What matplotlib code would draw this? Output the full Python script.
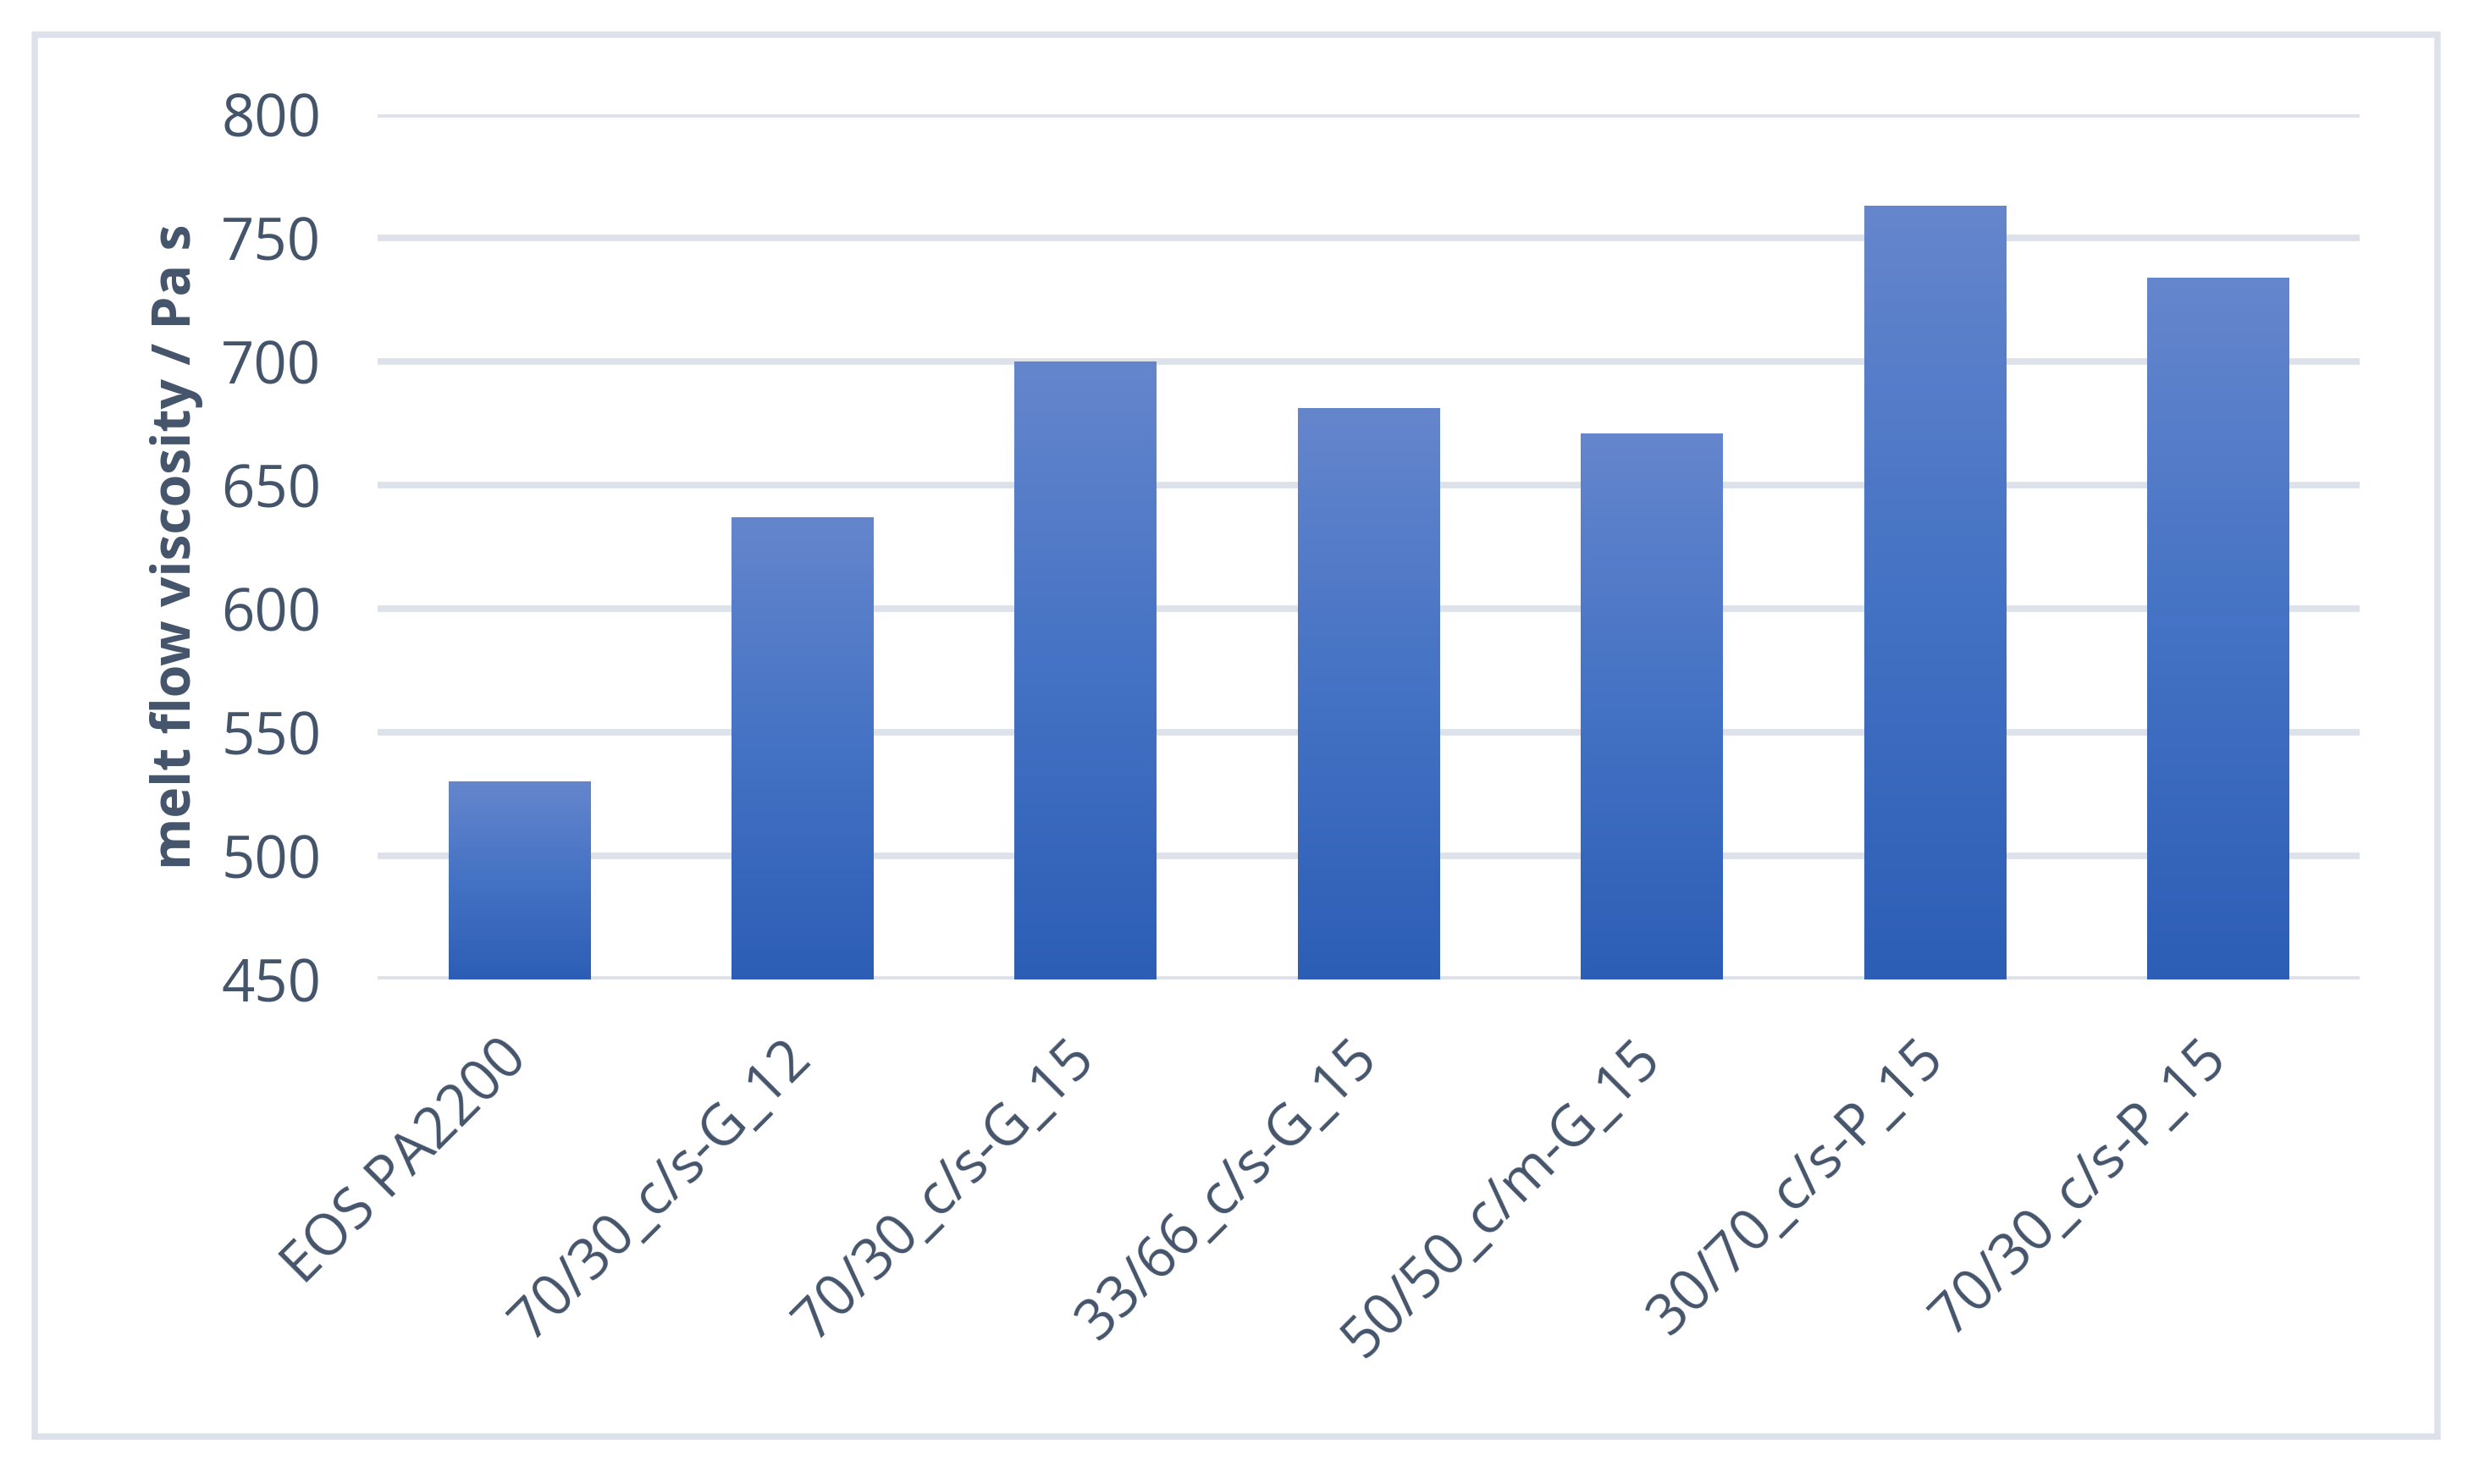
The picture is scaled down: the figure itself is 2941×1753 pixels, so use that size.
import numpy as np
import matplotlib
matplotlib.use("Agg")
import matplotlib.pyplot as plt
from matplotlib.colors import LinearSegmentedColormap
from matplotlib.patches import Rectangle

categories = ["EOS PA2200", "70/30_c/s-G_12", "70/30_c/s-G_15", "33/66_c/s-G_15",
              "50/50_c/m-G_15", "30/70_c/s-P_15", "70/30_c/s-P_15"]
values = [530, 637, 700, 681, 671, 763, 734]
yticks = [450, 500, 550, 600, 650, 700, 750, 800]
ylabel = "melt flow viscosity / Pa s"

text_color = "#44546A"
grid_color = "#DDE2EA"
plt.rcParams['font.family'] = ['Open Sans', 'DejaVu Sans']

W, H = 2941, 1753
dpi = 300
fig = plt.figure(figsize=(W / dpi, H / dpi), dpi=dpi)
fig.patch.set_facecolor("white")

# outer border
fig.patches.append(Rectangle((41 / W, 1 - 1697 / H), (2879 - 41) / W, (1697 - 41) / H,
                             transform=fig.transFigure, fill=False,
                             edgecolor=grid_color, linewidth=1.8, zorder=0))

ax = fig.add_axes([446 / W, 1 - 1157 / H, (2787 - 446) / W, (1157 - 135) / H])
x = np.arange(len(categories))
bars = ax.bar(x, values, width=0.5, bottom=0, color="#4472C4", zorder=2)

cmap = LinearSegmentedColormap.from_list("grad", ["#2D5EB6", "#4472C4", "#6586CD"])
grad = np.linspace(0, 1, 256).reshape(-1, 1)
ax.set_ylim(450, 800)
for b in bars:
    bx, bw, bh = b.get_x(), b.get_width(), b.get_height()
    y0 = 450
    im = ax.imshow(grad, extent=[bx, bx + bw, y0, bh], origin="lower", aspect="auto",
                   cmap=cmap, zorder=3, interpolation="bicubic")
    im.set_clip_path(b)

ax.set_xlim(-0.5, len(categories) - 0.5)
ax.set_ylim(450, 800)
ax.set_yticks(yticks)
ax.set_yticklabels([str(t) for t in yticks])
ax.set_xticks(x)
ax.set_xticklabels(categories, rotation=45, ha="right", va="center",
                   rotation_mode="anchor")

for s in ax.spines.values():
    s.set_visible(False)
ax.tick_params(axis="both", length=0, colors=text_color)
ax.tick_params(axis="y", pad=16, labelsize=16.5)
ax.tick_params(axis="x", pad=20, labelsize=16)
ax.yaxis.grid(True, color=grid_color, linewidth=1.85, zorder=0)
ax.set_axisbelow(True)

ax.set_ylabel(ylabel, fontsize=15, fontweight="bold", color=text_color)
ax.yaxis.set_label_coords(-0.088, 0.5)

fig.savefig("out.png", dpi=dpi, facecolor="white")
